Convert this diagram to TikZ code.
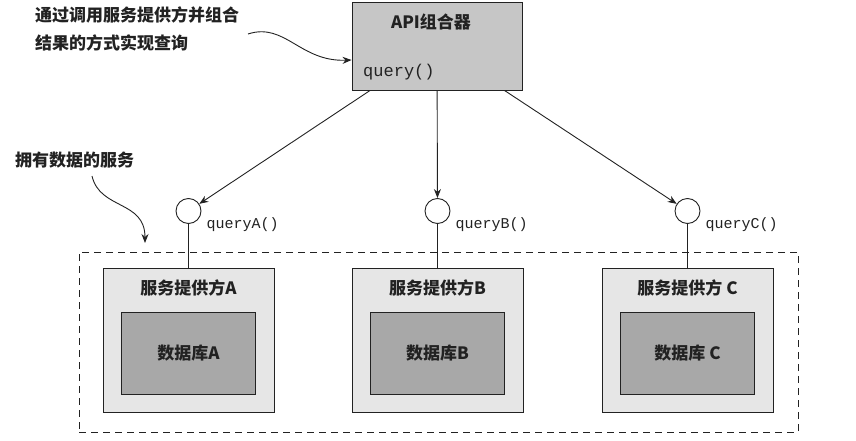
\documentclass[tikz,border=0pt]{standalone}
\usepackage{fontspec}
\setmainfont{Noto Sans CJK SC}
\newfontfamily\codefont{Liberation Mono}
\usetikzlibrary{positioning,arrows.meta}
\definecolor{apigray}{HTML}{C6C6C6}
\definecolor{provgray}{HTML}{E6E6E6}
\definecolor{dbgray}{HTML}{A8A8A8}
\definecolor{ink}{HTML}{222222}

\begin{document}
\begin{tikzpicture}[x=1pt, y=-1pt,
    every node/.style={text=ink},
    apibox/.style={draw=ink, fill=apigray, line width=0.9pt, minimum width=170pt, minimum height=88pt},
    provbox/.style={draw=ink, fill=provgray, line width=0.9pt, minimum width=171pt, minimum height=144pt},
    dbbox/.style={draw=ink, fill=dbgray, line width=0.9pt, minimum width=134pt, minimum height=82pt,
                  font=\bfseries\fontsize{17}{19}\selectfont},
    boxtitle/.style={font=\bfseries\fontsize{17}{19}\selectfont, inner sep=0pt},
    port/.style={circle, draw=ink, fill=white, line width=0.9pt, minimum size=25pt, inner sep=0pt},
    code/.style={font=\codefont\fontsize{15}{16}\selectfont, inner sep=0pt, anchor=west},
    note/.style={font=\bfseries\fontsize{17}{28}\selectfont, align=left, inner sep=0pt, anchor=west},
    rel/.style={-{Stealth[length=9pt, width=7pt]}, draw=ink, line width=0.9pt},
  ]
  \useasboundingbox (0,0) rectangle (856,441);

  % the composer, at the top
  \node[apibox] (api) at (437,46) {};
  \node[boxtitle] (apititle) at (431,22) {API组合器};
  \node[code, font=\codefont\fontsize{17}{18}\selectfont] (apiq) at (363,72) {query()};

  % the services that own the data
  \node[draw=ink, dash pattern=on 7pt off 5pt, line width=0.9pt,
        minimum width=719pt, minimum height=180pt] (svc) at (438.5,342) {};

  \foreach \n/\x/\sp in {A/188.5/, B/437.5/, C/687.5/\ } {
    \node[provbox] (prov\n) at (\x,340) {};
    \node[boxtitle] at ([yshift=-20pt]prov\n.north) {服务提供方\sp\n};
    \node[dbbox] (db\n) at (\x,353) {数据库\sp\n};
    \node[port] (if\n) at (\x,211) {};
    \node[code] at ([xshift=5pt, yshift=-14pt]if\n.east) {query\n()};
    \draw[line width=0.9pt, draw=ink] (if\n) -- (prov\n);
    \draw[rel] (api) -- (if\n);
  }

  % notes and their curved arrows
  \node[note] (howto) at (35,29) {通过调用服务提供方并组合\\结果的方式实现查询};
  \draw[rel] (248,34) .. controls (285,22) and (300,62) .. (api.west |- 0,60);

  \node[note] (owners) at (15,160) {拥有数据的服务};
  \coordinate (svcnote) at (145,243);
  \draw[rel] (92,176) .. controls (100,210) and (145,200) .. (svcnote);
\end{tikzpicture}
\end{document}
